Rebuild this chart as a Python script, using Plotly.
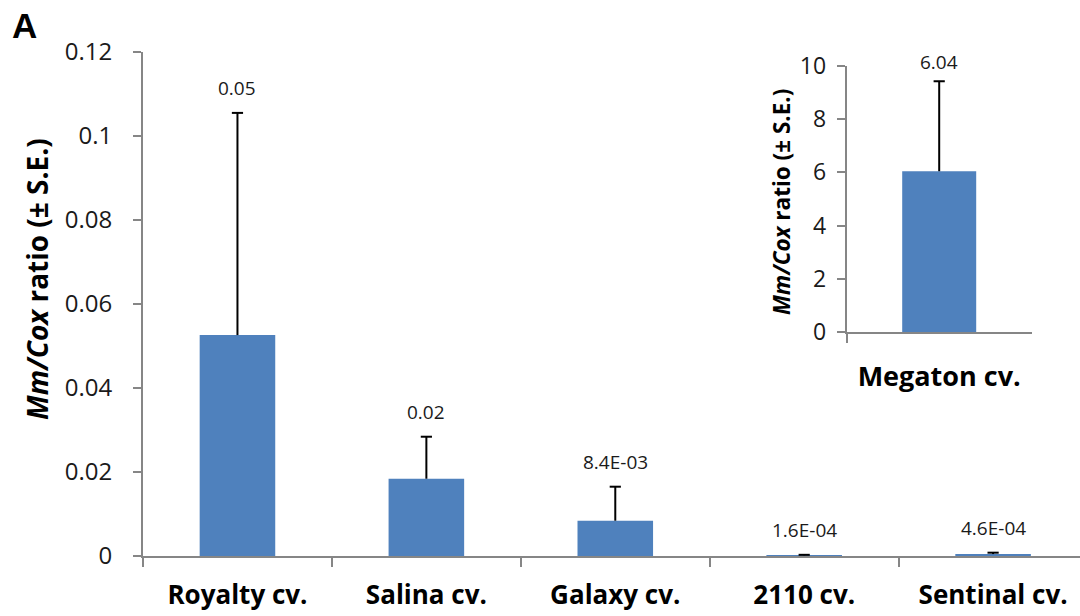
import plotly.graph_objects as go

# ---- data ----
categories = ["Royalty cv.", "Salina cv.", "Galaxy cv.", "2110 cv.", "Sentinal cv."]
means = [0.0526, 0.0184, 0.0084, 0.00016, 0.00046]
se = [0.0529, 0.0100, 0.0081, 0.00012, 0.00033]
value_labels = ["0.05", "0.02", "8.4E-03", "1.6E-04", "4.6E-04"]

inset_categories = ["Megaton cv."]
inset_means = [6.04]
inset_se = [3.38]
inset_labels = ["6.04"]

main_ticks = [0, 0.02, 0.04, 0.06, 0.08, 0.1, 0.12]
main_ticktext = ["0", "0.02", "0.04", "0.06", "0.08", "0.1", "0.12"]
inset_ticks = [0, 2, 4, 6, 8, 10]

W, H = 1080, 616
BAR = "#4F81BD"
AXIS = "#868686"
FONT = "Open Sans"
TXT = "#1a1a1a"


def err_traces(cats, m, e, xa, ya):
    xs, ys = [], []
    for c, mv, ev in zip(cats, m, e):
        xs += [c, c, None]
        ys += [mv, mv + ev, None]
    line = go.Scatter(x=xs, y=ys, mode="lines", line=dict(color="black", width=2),
                      xaxis=xa, yaxis=ya, showlegend=False, hoverinfo="skip")
    caps = go.Scatter(x=cats, y=[mv + ev for mv, ev in zip(m, e)], mode="markers",
                      marker=dict(symbol="line-ew", size=8, line=dict(color="black", width=2)),
                      xaxis=xa, yaxis=ya, showlegend=False, hoverinfo="skip")
    return [line, caps]


fig = go.Figure()
fig.add_trace(go.Bar(x=categories, y=means, width=0.4, marker=dict(color=BAR, line=dict(width=0)),
                     xaxis="x", yaxis="y", showlegend=False))
for t in err_traces(categories, means, se, "x", "y"):
    fig.add_trace(t)
fig.add_trace(go.Bar(x=inset_categories, y=inset_means, width=0.4,
                     marker=dict(color=BAR, line=dict(width=0)),
                     xaxis="x2", yaxis="y2", showlegend=False))
for t in err_traces(inset_categories, inset_means, inset_se, "x2", "y2"):
    fig.add_trace(t)

annotations = []
for c, m, e, t in zip(categories, means, se, value_labels):
    annotations.append(dict(x=c, y=m + e, xref="x", yref="y", text=t, showarrow=False,
                            xanchor="center", yanchor="middle",
                            yshift=25, font=dict(family=FONT, size=19, color=TXT)))
for c, m, e, t in zip(inset_categories, inset_means, inset_se, inset_labels):
    annotations.append(dict(x=c, y=m + e, xref="x2", yref="y2", text=t, showarrow=False,
                            xanchor="center", yanchor="middle",
                            yshift=19, font=dict(family=FONT, size=19, color=TXT)))

annotations.append(dict(x=24 / W, y=1 - 25 / H, xref="paper", yref="paper", text="<b>A</b>",
                        xanchor="center", yanchor="middle",
                        showarrow=False, font=dict(family="Liberation Sans", size=35, color="black")))
annotations.append(dict(x=37 / W, y=1 - 279 / H, xref="paper", yref="paper",
                        xanchor="center", yanchor="middle",
                        text="<b><i>Mm/Cox</i> ratio (± S.E.)</b>", textangle=-90, showarrow=False,
                        font=dict(family=FONT, size=28, color="black")))
annotations.append(dict(x=781 / W, y=1 - 202 / H, xref="paper", yref="paper",
                        xanchor="center", yanchor="middle",
                        text="<b><i>Mm/Cox</i> ratio (± S.E.)</b>", textangle=-90, showarrow=False,
                        font=dict(family=FONT, size=22.5, color="black")))

fig.update_layout(
    width=W, height=H, margin=dict(l=0, r=0, t=0, b=0),
    paper_bgcolor="white", plot_bgcolor="white", template="none",
    bargap=0.6,
    xaxis=dict(domain=[143 / W, 1.0], type="category", range=[-0.5, 4.46],
               showline=True, linecolor=AXIS, linewidth=2, ticks="outside", tickson="boundaries",
               ticklen=9, tickcolor=AXIS, tickwidth=2, showgrid=False, zeroline=False,
               ticklabelstandoff=15, automargin=False,
               tickfont=dict(family=FONT, size=26, color="black", weight="bold"), anchor="y"),
    yaxis=dict(domain=[(H - 556) / H, (H - 52) / H], range=[0, 0.12],
               tickvals=main_ticks, ticktext=main_ticktext,
               showline=True, linecolor=AXIS, linewidth=2, ticks="outside", ticklen=8,
               tickcolor=AXIS, tickwidth=2, showgrid=False, zeroline=False,
               ticklabelstandoff=16, automargin=False,
               tickfont=dict(family=FONT, size=24, color=TXT), anchor="x"),
    xaxis2=dict(domain=[846.7 / W, 1031.7 / W], type="category", range=[-0.5, 0.5],
                showline=True, linecolor=AXIS, linewidth=2, ticks="outside", tickson="boundaries",
                ticklen=9, tickcolor=AXIS, tickwidth=2, showgrid=False, zeroline=False,
                ticklabelstandoff=19, automargin=False,
                tickfont=dict(family=FONT, size=27, color="black", weight="bold"), anchor="y2"),
    yaxis2=dict(domain=[(H - 332.3) / H, (H - 65.7) / H], range=[0, 10], tickvals=inset_ticks,
                showline=True, linecolor=AXIS, linewidth=2, ticks="outside", ticklen=8,
                tickcolor=AXIS, tickwidth=2, showgrid=False, zeroline=False,
                ticklabelstandoff=6, automargin=False,
                tickfont=dict(family=FONT, size=23, color=TXT), anchor="x2"),
    annotations=annotations,
)

fig.write_html("out.html")
